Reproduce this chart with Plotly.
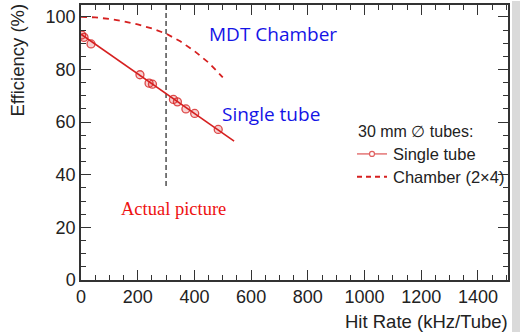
import plotly.graph_objects as go

# Single tube measurements
tube_rate = [2.5, 10.6, 35.3, 208, 240, 252, 326, 340, 370, 401, 484]
tube_eff = [93.1, 92.2, 89.7, 78.0, 74.8, 74.4, 68.6, 67.7, 65.0, 63.3, 57.2]
# Linear fit line (single tube)
fit_rate = [0, 540]
fit_eff = [93.4, 52.8]
# Chamber (2x4) efficiency curve
ch_rate = [0, 50, 100, 150, 200, 250, 300, 350, 400, 450, 500]
ch_eff = [100, 99.8, 99.2, 98.3, 97.1, 95.6, 93.6, 90.7, 87.0, 82.6, 77.0]
# Reference vertical line
vline_rate = [300, 300]
vline_eff = [104.5, 35]

x_ticks = [0, 200, 400, 600, 800, 1000, 1200, 1400]
y_ticks = [0, 20, 40, 60, 80, 100]

RED = "#d62020"
FONT = "Liberation Sans, Arial, sans-serif"

fig = go.Figure()
fig.add_trace(go.Scatter(x=vline_rate, y=vline_eff, mode="lines",
                         line=dict(color="#333333", width=1.3, dash="5px,3px"),
                         showlegend=False, hoverinfo="skip"))
fig.add_trace(go.Scatter(x=fit_rate, y=fit_eff, mode="lines",
                         line=dict(color=RED, width=1.6), showlegend=False))
fig.add_trace(go.Scatter(x=tube_rate, y=tube_eff, mode="markers",
                         marker=dict(symbol="circle", size=8, color="rgba(214,32,32,0.2)",
                                     line=dict(width=1.3, color="rgba(214,32,32,0.8)")),
                         showlegend=False))
fig.add_trace(go.Scatter(x=ch_rate, y=ch_eff, mode="lines",
                         line=dict(color=RED, width=1.8, dash="6px,5px"), showlegend=False))


def px_x(p):
    return (p - 81) / 427


def px_y(p):
    return 1 - (p - 3) / 277


ann = []
ann.append(dict(x=px_x(356), y=px_y(130), xref="paper", yref="paper", xanchor="left", yanchor="middle",
                text="30 mm \u2205 tubes:", showarrow=False, font=dict(family=FONT, size=16, color="#222")))
ann.append(dict(x=px_x(391), y=px_y(153), xref="paper", yref="paper", xanchor="left", yanchor="middle",
                text="Single tube", showarrow=False, font=dict(family=FONT, size=16.5, color="#222")))
ann.append(dict(x=px_x(391), y=px_y(176), xref="paper", yref="paper", xanchor="left", yanchor="middle",
                text="Chamber (2\u00d74)", showarrow=False, font=dict(family=FONT, size=16.5, color="#222")))
# Labels
ann.append(dict(x=px_x(273), y=px_y(32), xref="paper", yref="paper", xanchor="center", yanchor="middle",
                text="MDT Chamber", showarrow=False, font=dict(family="Open Sans, sans-serif", size=19, color="#1414e6")))
ann.append(dict(x=px_x(271), y=px_y(113), xref="paper", yref="paper", xanchor="center", yanchor="middle",
                text="Single tube", showarrow=False, font=dict(family="Open Sans, sans-serif", size=19, color="#1414e6")))
ann.append(dict(x=px_x(173), y=px_y(208), xref="paper", yref="paper", xanchor="center", yanchor="middle",
                text="Actual picture", showarrow=False, font=dict(family="Liberation Serif, serif", size=18.5, color="#ee1111")))
# Axis titles
ann.append(dict(x=px_x(510), y=px_y(322), xref="paper", yref="paper", xanchor="right", yanchor="middle",
                text="Hit Rate (kHz/Tube)", showarrow=False, font=dict(family=FONT, size=18.5, color="#222")))
ann.append(dict(x=px_x(18), y=px_y(59), xref="paper", yref="paper", xanchor="center", yanchor="middle",
                text="Efficiency (%)", textangle=-90, showarrow=False, font=dict(family=FONT, size=18.5, color="#222")))

shapes = [
    dict(type="line", xref="paper", yref="paper", x0=px_x(357), x1=px_x(387), y0=px_y(153), y1=px_y(153),
         line=dict(color="#e06060", width=1.3)),
    dict(type="circle", xref="paper", yref="paper", x0=px_x(369.5), x1=px_x(374.5), y0=px_y(150.5), y1=px_y(155.5),
         line=dict(color="#e06060", width=1.2), fillcolor="white"),
    dict(type="line", xref="paper", yref="paper", x0=px_x(357), x1=px_x(387), y0=px_y(176), y1=px_y(176),
         line=dict(color=RED, width=1.8, dash="5px,4px")),
    # shadow at right edge
    dict(type="rect", xref="paper", yref="paper", x0=px_x(512), x1=px_x(521), y0=px_y(333), y1=px_y(-1),
         line=dict(width=0), fillcolor="rgba(150,150,150,0.35)", layer="below"),
]

fig.update_layout(
    width=520, height=332,
    margin=dict(l=81, r=12, t=3, b=52),
    paper_bgcolor="white", plot_bgcolor="white",
    annotations=ann, shapes=shapes, showlegend=False,
    xaxis=dict(range=[0, 1506], tickvals=x_ticks, ticks="inside", ticklen=10, tickwidth=1,
               tickcolor="#333", showline=True, linecolor="#333", linewidth=1.5, mirror="ticks",
               showgrid=False, zeroline=False,
               minor=dict(dtick=50, ticks="inside", ticklen=5, tickcolor="#333", showgrid=False),
               tickfont=dict(family=FONT, size=18, color="#222")),
    yaxis=dict(range=[0, 104.5], tickvals=y_ticks, ticks="inside", ticklen=10, tickwidth=1,
               tickcolor="#333", showline=True, linecolor="#333", linewidth=1.5, mirror="ticks",
               showgrid=False, zeroline=False,
               minor=dict(dtick=5, ticks="inside", ticklen=5, tickcolor="#333", showgrid=False),
               tickfont=dict(family=FONT, size=18, color="#222")),
)

fig.write_html("out.html")
